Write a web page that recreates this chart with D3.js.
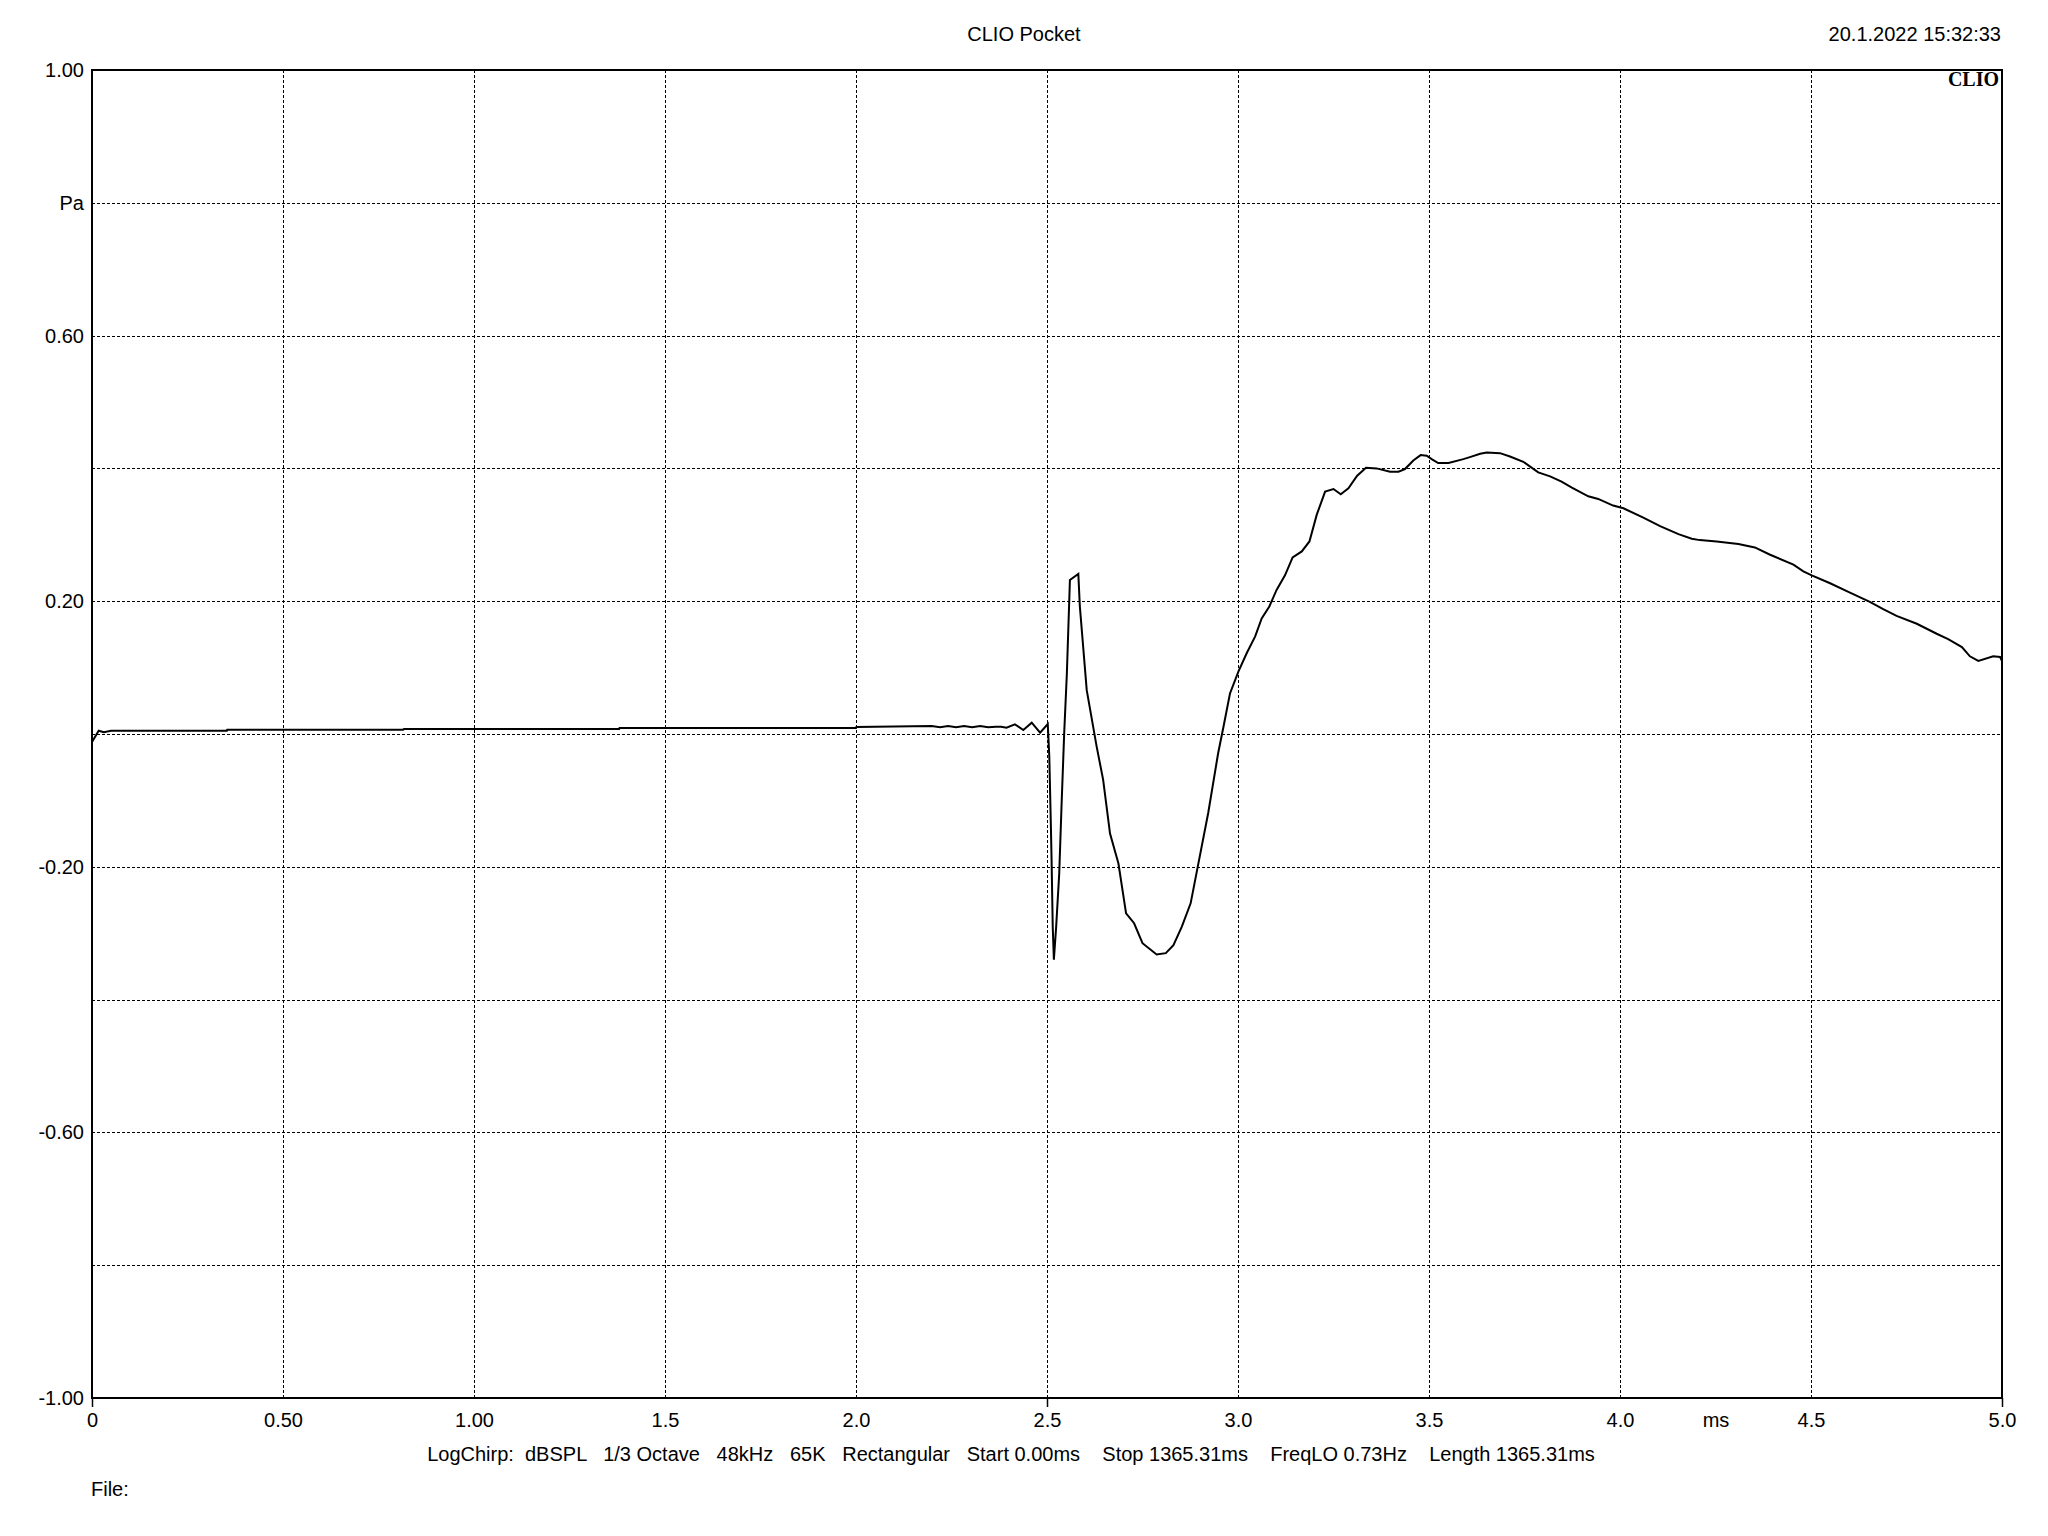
<!DOCTYPE html>
<html>
<head>
<meta charset="utf-8">
<script src="https://cdn.jsdelivr.net/npm/d3@7"></script>
<style>
  html, body { margin: 0; padding: 0; background: #fff; }
  svg { display: block; }
  text { font-family: "Liberation Sans", Arial, sans-serif; fill: #000; }
</style>
</head>
<body>
<svg id="chart" width="2048" height="1536"></svg>
<script>
// ---- data (time in ms, pressure in Pa) ----
const timeMs = [
  0, 0.0175, 0.031, 0.05, 0.353, 0.354, 0.814, 0.817, 1.38, 1.381, 2.0, 2.001,
  2.198, 2.22, 2.241, 2.262, 2.283, 2.304, 2.325, 2.346, 2.366, 2.38,
  2.394, 2.416, 2.438, 2.46, 2.482, 2.502, 2.506, 2.51, 2.512, 2.515, 2.518,
  2.524, 2.532, 2.538, 2.545, 2.552, 2.56, 2.582, 2.586, 2.604, 2.63, 2.647,
  2.665, 2.687, 2.707, 2.728, 2.75, 2.787, 2.811, 2.831, 2.853, 2.876, 2.898,
  2.922, 2.948, 2.962, 2.979, 3.001, 3.023, 3.045, 3.062, 3.082, 3.101, 3.123,
  3.143, 3.167, 3.187, 3.206, 3.228, 3.25, 3.269, 3.289, 3.312, 3.335, 3.363,
  3.398, 3.42, 3.437, 3.459, 3.478, 3.494, 3.507, 3.524, 3.551, 3.59, 3.607,
  3.634, 3.651, 3.686, 3.712, 3.747, 3.786, 3.817, 3.847, 3.874, 3.917, 3.943,
  3.982, 4.009, 4.061, 4.105, 4.153, 4.188, 4.209, 4.253, 4.31, 4.353, 4.393,
  4.454, 4.48, 4.502, 4.55, 4.602, 4.654, 4.689, 4.724, 4.777, 4.829, 4.859,
  4.895, 4.916, 4.938, 4.977, 4.995, 5.0
];
const pressurePa = [
  -0.012, 0.005, 0.0026, 0.005, 0.005, 0.0065, 0.0065, 0.0075, 0.0075, 0.009, 0.009, 0.0105,
  0.012, 0.010, 0.012, 0.010, 0.012, 0.010, 0.012, 0.010, 0.011, 0.011,
  0.0095, 0.0146, 0.006, 0.017, 0.002, 0.015, -0.034, -0.134, -0.19, -0.29, -0.34,
  -0.29, -0.21, -0.109, 0.001, 0.091, 0.232, 0.241, 0.192, 0.066, -0.019, -0.069,
  -0.15, -0.195, -0.27, -0.285, -0.315, -0.332, -0.33, -0.318, -0.29, -0.255, -0.19,
  -0.119, -0.029, 0.011, 0.061, 0.094, 0.122, 0.147, 0.174, 0.192, 0.217, 0.239,
  0.266, 0.275, 0.29, 0.33, 0.365, 0.369, 0.361, 0.37, 0.389, 0.401, 0.4,
  0.395, 0.395, 0.399, 0.412, 0.42, 0.419, 0.414, 0.408, 0.408, 0.414, 0.417,
  0.422, 0.424, 0.423, 0.418, 0.41, 0.394, 0.388, 0.38, 0.371, 0.358, 0.354,
  0.344, 0.34, 0.326, 0.313, 0.301, 0.294, 0.292, 0.29, 0.286, 0.281, 0.27,
  0.255, 0.245, 0.239, 0.227, 0.213, 0.199, 0.188, 0.178, 0.166, 0.151, 0.143,
  0.131, 0.117, 0.11, 0.117, 0.116, 0.11
];

const xGridValues = [0.5, 1, 1.5, 2, 2.5, 3, 3.5, 4, 4.5];
const yGridValues = [0.8, 0.6, 0.4, 0.2, 0, -0.2, -0.4, -0.6, -0.8];
const xMajorTicks = [0, 2.5, 5];
const xTickValues = [0, 0.5, 1, 1.5, 2, 2.5, 3, 3.5, 4, 4.25, 4.5, 5];
const xTickLabels = ["0", "0.50", "1.00", "1.5", "2.0", "2.5", "3.0", "3.5", "4.0", "ms", "4.5", "5.0"];
const yTickValues = [1, 0.8, 0.6, 0.2, -0.2, -0.6, -1];
const yTickLabels = ["1.00", "Pa", "0.60", "0.20", "-0.20", "-0.60", "-1.00"];

const titleText = "CLIO Pocket";
const dateText = "20.1.2022 15:32:33";
const infoText = "LogChirp:  dBSPL   1/3 Octave   48kHz   65K   Rectangular   Start 0.00ms    Stop 1365.31ms    FreqLO 0.73Hz    Length 1365.31ms";
const fileText = "File:";
const logoText = "CLIO";

// ---- layout ----
const L = 92, R = 2002, T = 70, B = 1398;
const FS = 20;
const svg = d3.select("#chart");
svg.append("rect").attr("width", 2048).attr("height", 1536).attr("fill", "#fff");

const x = d3.scaleLinear().domain([0, 5]).range([L, R]);
const y = d3.scaleLinear().domain([-1, 1]).range([B, T]);

// grid
const grid = svg.append("g").attr("stroke", "#000").attr("stroke-width", 1)
  .attr("stroke-dasharray", "3,2").attr("shape-rendering", "crispEdges");
grid.selectAll("line.v").data(xGridValues).join("line").attr("class", "v")
  .attr("x1", d => Math.round(x(d)) + 0.5).attr("x2", d => Math.round(x(d)) + 0.5)
  .attr("y1", T).attr("y2", B);
grid.selectAll("line.h").data(yGridValues).join("line").attr("class", "h")
  .attr("y1", d => Math.round(y(d)) + 0.5).attr("y2", d => Math.round(y(d)) + 0.5)
  .attr("x1", L).attr("x2", R);

// small ticks below x axis
svg.append("g").selectAll("line").data(xMajorTicks).join("line")
  .attr("x1", d => Math.round(x(d)) + 0.5).attr("x2", d => Math.round(x(d)) + 0.5)
  .attr("y1", B).attr("y2", B + 9).attr("stroke", "#000").attr("stroke-width", 1.5);

// axes labels via d3 axes
const xAxis = d3.axisBottom(x).tickValues(xTickValues)
  .tickFormat((d, i) => xTickLabels[i]).tickSize(0).tickPadding(15);
const gx = svg.append("g").attr("transform", `translate(0,${B})`).call(xAxis);
gx.select(".domain").remove();
gx.selectAll("text").attr("font-size", FS).attr("font-family", "Liberation Sans, Arial, sans-serif").attr("fill", "#000");

const yAxis = d3.axisLeft(y).tickValues(yTickValues)
  .tickFormat((d, i) => yTickLabels[i]).tickSize(0).tickPadding(8);
const gy = svg.append("g").attr("transform", `translate(${L},0)`).call(yAxis);
gy.select(".domain").remove();
gy.selectAll("text").attr("font-size", FS).attr("font-family", "Liberation Sans, Arial, sans-serif").attr("fill", "#000");

// data line
const data = timeMs.map((t, i) => [t, pressurePa[i]]);
svg.append("path").datum(data)
  .attr("fill", "none").attr("stroke", "#000").attr("stroke-width", 2)
  .attr("stroke-linejoin", "miter")
  .attr("d", d3.line().x(d => x(d[0])).y(d => y(d[1])));

// frame
svg.append("rect").attr("x", L).attr("y", T).attr("width", R - L).attr("height", B - T)
  .attr("fill", "none").attr("stroke", "#000").attr("stroke-width", 2);

// texts
svg.append("text").attr("x", 1024).attr("y", 41).attr("text-anchor", "middle")
  .attr("font-size", FS).text(titleText);
svg.append("text").attr("x", 2001).attr("y", 41).attr("text-anchor", "end")
  .attr("font-size", FS).text(dateText);
svg.append("text").attr("x", 1999).attr("y", 86).attr("text-anchor", "end")
  .attr("font-size", 20).attr("font-weight", "bold")
  .style("font-family", "'Liberation Serif', 'DejaVu Serif', serif").text(logoText);
svg.append("text").attr("x", 1011).attr("y", 1461).attr("text-anchor", "middle")
  .attr("font-size", FS).style("white-space", "pre").attr("xml:space", "preserve").text(infoText);
svg.append("text").attr("x", 91).attr("y", 1496)
  .attr("font-size", FS).text(fileText);
</script>
</body>
</html>
